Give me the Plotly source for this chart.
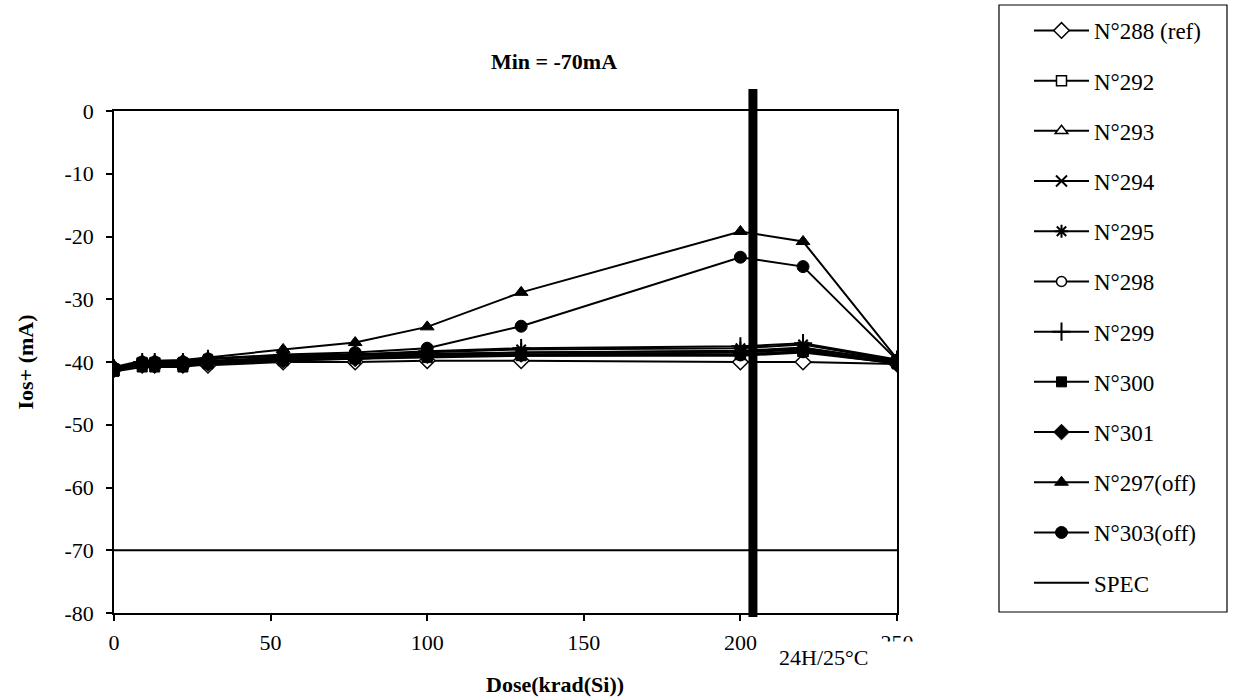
import plotly.graph_objects as go

# ---------------- data ----------------
dose = [0, 9, 13, 22, 30, 54, 77, 100, 130, 200, 220, 250]

n288 = [-41.0, -40.5, -40.5, -40.5, -40.5, -40.0, -40.0, -39.8, -39.8, -40.0, -40.0, -40.3]
n292 = [-41.3, -40.2, -40.2, -40.3, -40.0, -39.5, -39.3, -39.0, -38.8, -38.8, -38.3, -40.0]
n293 = [-41.0, -40.0, -40.0, -40.0, -39.8, -39.3, -39.0, -38.7, -38.5, -38.3, -37.8, -39.8]
n294 = [-41.2, -40.3, -40.3, -40.3, -40.0, -39.3, -39.0, -38.8, -38.5, -38.2, -37.7, -40.0]
n295 = [-41.0, -40.0, -40.0, -40.0, -39.5, -39.0, -38.8, -38.5, -38.0, -37.8, -37.2, -39.8]
n298 = [-41.3, -40.5, -40.5, -40.5, -40.0, -39.5, -39.5, -39.0, -39.0, -39.0, -38.5, -40.2]
n299 = [-41.0, -40.0, -40.0, -40.0, -39.5, -39.0, -38.8, -38.3, -37.8, -37.5, -37.0, -39.6]
n300 = [-41.5, -40.8, -40.8, -40.8, -40.3, -39.8, -39.5, -39.3, -39.0, -38.8, -38.3, -40.3]
n301 = [-41.2, -40.5, -40.5, -40.5, -40.2, -39.7, -39.5, -39.0, -38.8, -38.5, -38.0, -40.2]
n297 = [-40.8, -39.8, -39.8, -39.7, -39.3, -38.0, -36.9, -34.4, -28.9, -19.2, -20.8, -39.5]
n303 = [-41.0, -40.0, -40.0, -40.0, -39.5, -38.8, -38.5, -37.8, -34.3, -23.3, -24.8, -39.7]

spec_dose = [0, 250]
spec_vals = [-70, -70]

anneal_dose = 204

names = ["N°288 (ref)", "N°292", "N°293", "N°294", "N°295", "N°298", "N°299",
         "N°300", "N°301", "N°297(off)", "N°303(off)"]
values = [n288, n292, n293, n294, n295, n298, n299, n300, n301, n297, n303]

x_ticks = [0, 50, 100, 150, 200, 250]
y_ticks = [0, -10, -20, -30, -40, -50, -60, -70, -80]

# ---------------- styles ----------------
FONT = "Liberation Serif"
styles = [
    dict(symbol="diamond", color="white", size=12, line=dict(color="black", width=1.5)),
    dict(symbol="square", color="white", size=10, line=dict(color="black", width=1.5)),
    dict(symbol="triangle-up", color="white", size=11, line=dict(color="black", width=1.5)),
    dict(symbol="x-thin", color="black", size=11, line=dict(color="black", width=2)),
    dict(symbol="asterisk", color="black", size=11, line=dict(color="black", width=2)),
    dict(symbol="circle", color="white", size=10, line=dict(color="black", width=1.5)),
    dict(symbol="cross-thin", color="black", size=13, line=dict(color="black", width=2)),
    dict(symbol="square", color="black", size=10, line=dict(color="black", width=1)),
    dict(symbol="diamond", color="black", size=12, line=dict(color="black", width=1)),
    dict(symbol="triangle-up", color="black", size=12, line=dict(color="black", width=1)),
    dict(symbol="circle", color="black", size=12, line=dict(color="black", width=1)),
]

fig = go.Figure()
for name, vals, st in zip(names, values, styles):
    fig.add_trace(go.Scatter(
        x=dose, y=vals, name=name, mode="lines+markers",
        line=dict(color="black", width=2), marker=st, legendgroup=name,
    ))
fig.add_trace(go.Scatter(
    x=spec_dose, y=spec_vals, name="SPEC", mode="lines",
    line=dict(color="black", width=2), legendgroup="SPEC",
))

L, R, T, B = 114, 897, 111, 613
W, H = 1233, 700

fig.update_layout(
    width=W, height=H,
    margin=dict(l=L, r=W - R, t=T, b=H - B, pad=0),
    paper_bgcolor="white", plot_bgcolor="white",
    font=dict(family=FONT, size=22, color="black"),
    showlegend=True,
    legend=dict(
        xref="container", yref="container",
        x=1029 / W, y=1 - 9 / H, xanchor="left", yanchor="top",
        borderwidth=0, bgcolor="rgba(0,0,0,0)",
        itemwidth=55, tracegroupgap=17.3, maxheight=1.0,
        font=dict(family=FONT, size=23, color="black"),
    ),
    title=dict(
        text="<b>Min = -70mA</b>", xref="paper", yref="container",
        x=(554 - L) / (R - L), y=1 - 61 / H, xanchor="center", yanchor="middle",
        font=dict(family=FONT, size=22, color="black"),
    ),
)

fig.update_xaxes(
    range=[0, 250], tickvals=x_ticks, ticktext=[str(v) for v in x_ticks],
    showgrid=False, zeroline=False, showline=True, linecolor="black", linewidth=1.5,
    mirror=True, ticks="outside", ticklen=6, tickwidth=1.5, tickcolor="black",
    ticklabelstandoff=3,
)
fig.update_yaxes(
    range=[-80, 0], tickvals=y_ticks, ticktext=[str(v) for v in y_ticks],
    showgrid=False, zeroline=False, showline=True, linecolor="black", linewidth=1.5,
    mirror=True, ticks="outside", ticklen=6, tickwidth=1.5, tickcolor="black",
    ticklabelstandoff=8,
    title=dict(text="<b>Ios+ (mA)</b>", font=dict(family=FONT, size=22), standoff=25),
)

# legend frame (Excel-style box)
fig.add_shape(
    type="rect", xref="paper", yref="paper",
    x0=(999 - L) / (R - L), x1=(1227 - L) / (R - L),
    y0=(B - 612) / (B - T), y1=(B - 5) / (B - T),
    line=dict(color="black", width=1.2), fillcolor="rgba(0,0,0,0)", layer="below",
)

# annealing marker: thick vertical bar
fig.add_shape(
    type="line", xref="x", yref="paper",
    x0=anneal_dose, x1=anneal_dose, y0=(B - 617) / (B - T), y1=(B - 89) / (B - T),
    line=dict(color="black", width=9), layer="above",
)

# x axis title
fig.add_annotation(
    text="<b>Dose(krad(Si))</b>", xref="paper", yref="paper",
    x=(555 - L) / (R - L), y=(B - 684) / (B - T),
    xanchor="center", yanchor="middle", showarrow=False,
    font=dict(family=FONT, size=22, color="black"),
)

# annealing label covering the last tick label partially
fig.add_annotation(
    text="24H/25°C", xref="paper", yref="paper",
    x=(846 - L) / (R - L), y=(B - 657) / (B - T),
    xanchor="center", yanchor="middle", showarrow=False,
    width=135, height=28, align="left", bgcolor="white",
    font=dict(family=FONT, size=22, color="black"),
)

fig.write_html("out.html")
